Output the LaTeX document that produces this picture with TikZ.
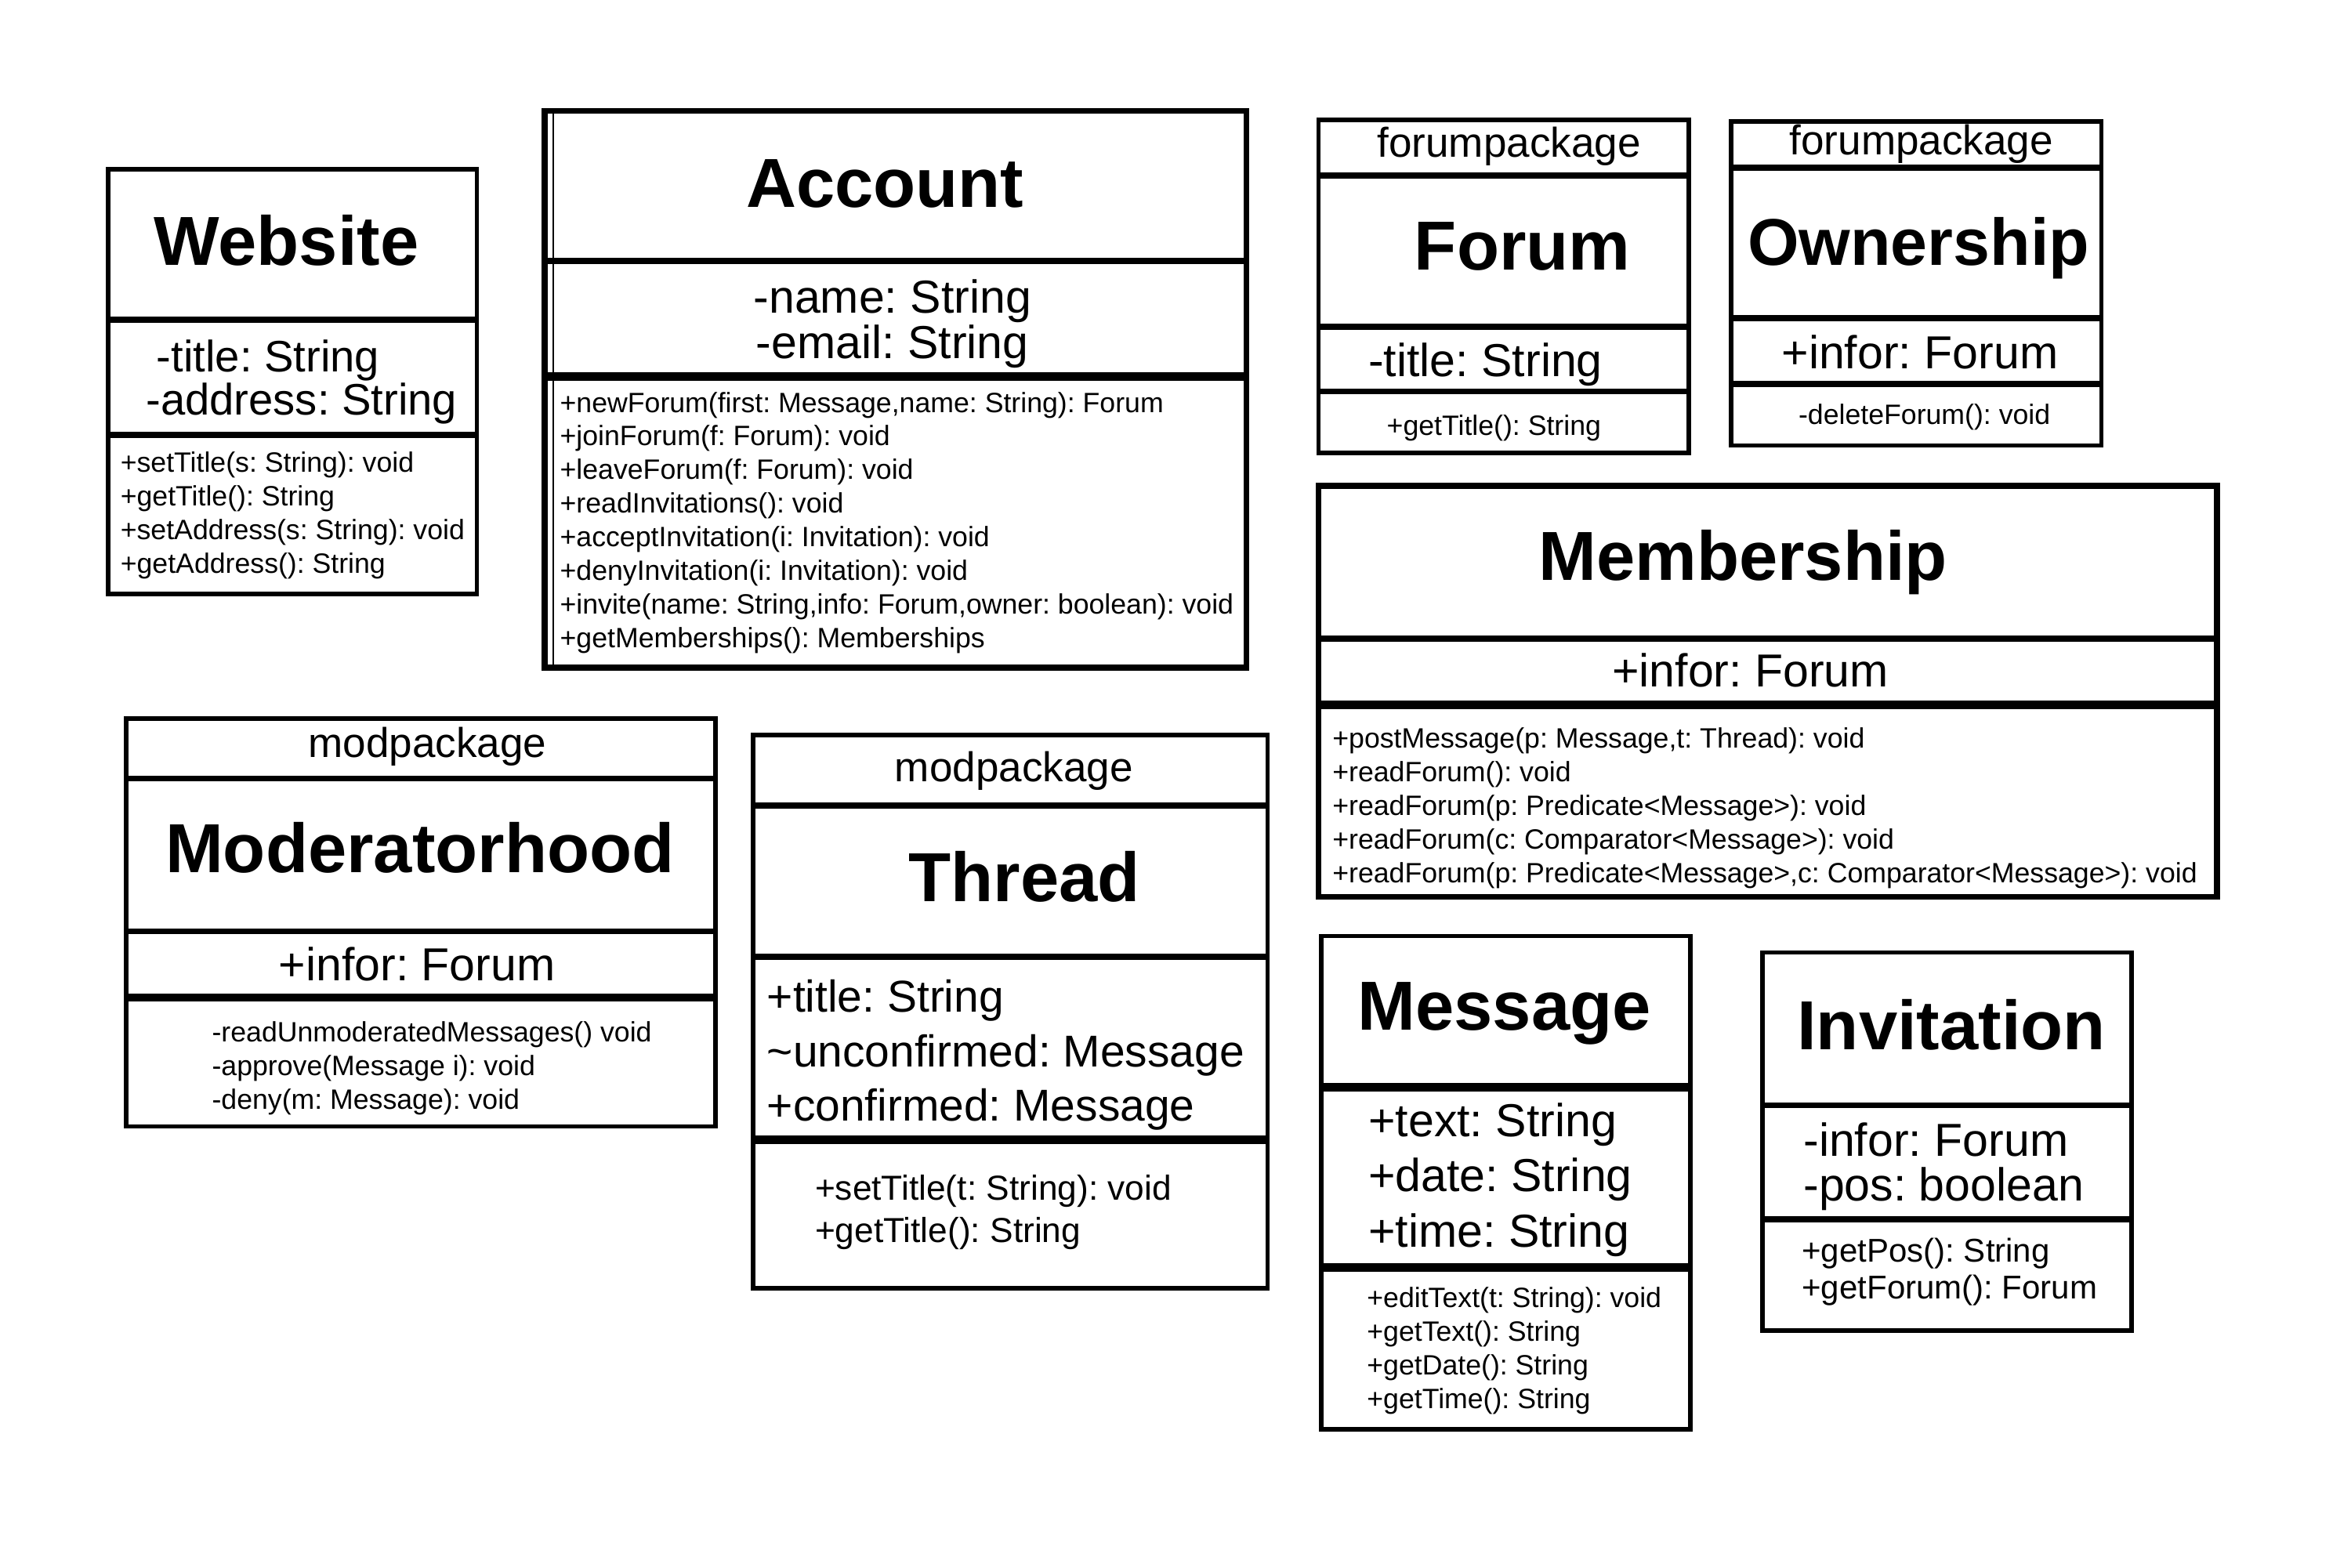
\documentclass[tikz,border=0pt]{standalone}
\usepackage{fontspec}
\setmainfont{Liberation Sans}
\newcommand{\fsz}[2]{\fontsize{#1}{#2}\selectfont}
\frenchspacing

\begin{document}
\begin{tikzpicture}[x=0.1914mm,y=-0.1914mm,
	box/.style={line width=1.6pt},
	div/.style={line width=2.2pt},
	sep/.style={line width=3pt},
	ttl/.style={anchor=base,inner sep=0pt,font=\bfseries\fsz{25.2pt}{30pt}},
	pkg/.style={anchor=base,inner sep=0pt,font=\fsz{15.1pt}{18pt}},
	attr/.style={inner sep=0pt,font=\fsz{16.8pt}{16.4pt}},
	meth/.style={anchor=north west,inner sep=0pt,align=left,font=\fsz{10.15pt}{12.2pt}}]
	\fill[white] (0,0) rectangle (1567.4,1045); % le fond
	\useasboundingbox (0,0) rectangle (1567.4,1045);
	% Website
	\draw[box] (72,113) rectangle (318,396);
	\draw[div] (72,213) -- (318,213);
	\draw[div] (72,290) -- (318,290);
	\node[ttl] (websitettl) at (191,177) {Website};
	\node[attr,anchor=north west,align=left,font=\fsz{16pt}{15.8pt}] (websiteattr) at (97,226) {\hspace{3.85pt}-title: String\\-address: String};
	\node[meth] (websitemeth) at (80,301) {+setTitle(s: String): void\\+getTitle(): String\\+setAddress(s: String): void\\+getAddress(): String};
	% Account
	\draw[line width=2.2pt] (363,74) rectangle (831,445);
	\draw[line width=0.6pt] (369,74) -- (369,445); % le double trait a gauche
	\draw[div] (363,174) -- (831,174);
	\draw[sep] (363,251) -- (831,251);
	\node[ttl] (accountttl) at (590,138) {Account};
	\node[attr,anchor=north,align=center] (accountattr) at (595,186) {-name: String\\-email: String};
	\node[meth] (accountmeth) at (373,261) {+newForum(first: Message,name: String): Forum\\+joinForum(f: Forum): void\\+leaveForum(f: Forum): void\\+readInvitations(): void\\+acceptInvitation(i: Invitation): void\\+denyInvitation(i: Invitation): void\\+invite(name: String,info: Forum,owner: boolean): void\\+getMemberships(): Memberships};
	% Forum
	\draw[box] (879,80) rectangle (1126,302);
	\draw[div] (879,117) -- (1126,117);
	\draw[div] (879,218) -- (1126,218);
	\draw[div] (879,261) -- (1126,261);
	\node[pkg] (forumpkg) at (1006,105) {forumpackage};
	\node[ttl] (forumttl) at (1015,180) {Forum};
	\node[attr,anchor=base west] (forumattr) at (912,251) {-title: String};
	\node[meth,anchor=base] (forummeth) at (996,290) {+getTitle(): String};
	% Ownership
	\draw[box] (1154,81) rectangle (1401,297);
	\draw[div] (1154,112) -- (1401,112);
	\draw[div] (1154,212) -- (1401,212);
	\draw[div] (1154,256) -- (1401,256);
	\node[pkg] (ownerpkg) at (1281,103) {forumpackage};
	\node[ttl,font=\bfseries\fsz{24pt}{30pt}] (ownerttl) at (1279,177) {Ownership};
	\node[attr,anchor=base] (ownerattr) at (1280,246) {+infor: Forum};
	\node[meth,anchor=base] (ownermeth) at (1283,283) {-deleteForum(): void};
	% Membership
	\draw[div] (879,324) rectangle (1478,598);
	\draw[div] (879,426) -- (1478,426);
	\draw[sep] (879,470) -- (1478,470);
	\node[ttl] (memberttl) at (1162,387) {Membership};
	\node[attr,anchor=base] (memberattr) at (1167,458) {+infor: Forum};
	\node[meth] (membermeth) at (888,485) {+postMessage(p: Message,t: Thread): void\\+readForum(): void\\+readForum(p: Predicate<Message>): void\\+readForum(c: Comparator<Message>): void\\+readForum(p: Predicate<Message>,c: Comparator<Message>): void};
	% Moderatorhood
	\draw[box] (84,479) rectangle (477,751);
	\draw[div] (84,519) -- (477,519);
	\draw[div] (84,621) -- (477,621);
	\draw[sep] (84,665) -- (477,665);
	\node[pkg] (modpkg) at (285,505) {modpackage};
	\node[ttl] (modttl) at (280,582) {Moderatorhood};
	\node[attr,anchor=base] (modattr) at (278,654) {+infor: Forum};
	\node[meth] (modmeth) at (141,681) {-readUnmoderatedMessages() void\\-approve(Message i): void\\-deny(m: Message): void};
	% Thread
	\draw[box] (502,490) rectangle (845,859);
	\draw[div] (502,537) -- (845,537);
	\draw[div] (502,638) -- (845,638);
	\draw[sep] (502,760) -- (845,760);
	\node[pkg] (threadpkg) at (676,521) {modpackage};
	\node[ttl] (threadttl) at (683,601) {Thread};
	\node[attr,anchor=north west,align=left,font=\fsz{16.2pt}{19.8pt}] (threadattr) at (511,653) {+title: String\\\textasciitilde unconfirmed: Message\\+confirmed: Message};
	\node[meth,font=\fsz{12.6pt}{15.3pt}] (threadmeth) at (543,783) {+setTitle(t: String): void\\+getTitle(): String};
	% Message
	\draw[box] (881,624) rectangle (1127,953);
	\draw[sep] (881,725) -- (1127,725);
	\draw[sep] (881,845) -- (1127,845);
	\node[ttl] (msgttl) at (1003,687) {Message};
	\node[attr,anchor=north west,align=left,font=\fsz{16.8pt}{20.1pt}] (msgattr) at (912,735) {+text: String\\+date: String\\+time: String};
	\node[meth] (msgmeth) at (911,858) {+editText(t: String): void\\+getText(): String\\+getDate(): String\\+getTime(): String};
	% Invitation
	\draw[box] (1175,635) rectangle (1421,887);
	\draw[div] (1175,737) -- (1421,737);
	\draw[div] (1175,813) -- (1421,813);
	\node[ttl] (invitttl) at (1301,700) {Invitation};
	\node[attr,anchor=north west,align=left] (invitattr) at (1202,748) {-infor: Forum\\-pos: boolean};
	\node[meth,font=\fsz{11.95pt}{13.6pt}] (invitmeth) at (1201,825) {+getPos(): String\\+getForum(): Forum};
\end{tikzpicture}
\end{document}
